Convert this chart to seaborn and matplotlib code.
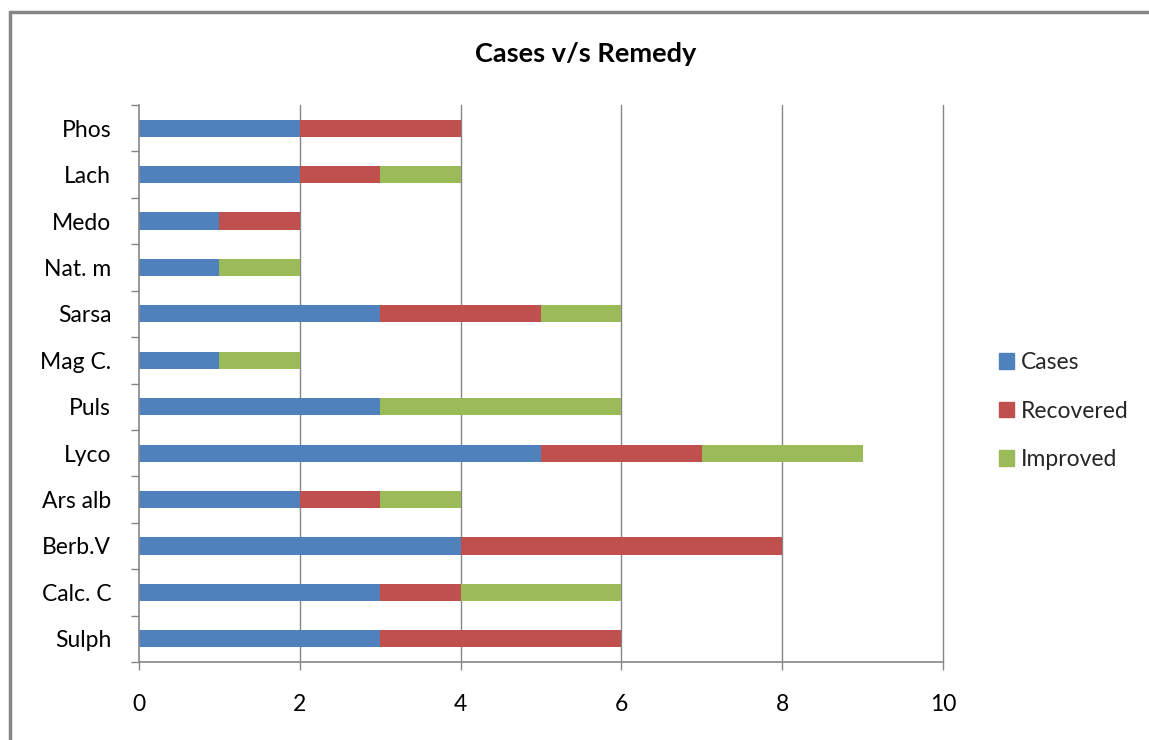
import matplotlib
matplotlib.use("Agg")
import matplotlib.pyplot as plt
from matplotlib.patches import Patch
from matplotlib.lines import Line2D
import seaborn as sns
import pandas as pd
import numpy as np

remedies = ["Phos", "Lach", "Medo", "Nat. m", "Sarsa", "Mag C.", "Puls",
            "Lyco", "Ars alb", "Berb.V", "Calc. C", "Sulph"]
cases = [2, 2, 1, 1, 3, 1, 3, 5, 2, 4, 3, 3]
recovered = [2, 1, 1, 0, 2, 0, 0, 2, 1, 4, 1, 3]
improved = [0, 1, 0, 1, 1, 1, 3, 2, 1, 0, 2, 0]
series_names = ["Cases", "Recovered", "Improved"]
colors = ["#4F81BD", "#C0504D", "#9BBB59"]
x_ticks = [0, 2, 4, 6, 8, 10]

sns.set_theme(style="white")
plt.rcParams["font.family"] = ["Lato", "DejaVu Sans"]

df = pd.DataFrame({"remedy": remedies, "Cases": cases,
                   "Recovered": recovered, "Improved": improved})
df["c1"] = df["Cases"]
df["c2"] = df["Cases"] + df["Recovered"]
df["c3"] = df["c2"] + df["Improved"]

fig = plt.figure(figsize=(11.49, 7.40), dpi=100)
ax = fig.add_axes([139 / 1149, 1 - 662 / 740, (943 - 139) / 1149, (662 - 105) / 740])

grid_col = "#868686"
for xv in x_ticks[1:]:
    ax.axvline(xv, color=grid_col, lw=1.0, zorder=0, clip_on=False)

for col, c in zip(["c3", "c2", "c1"], colors[::-1]):
    sns.barplot(data=df, x=col, y="remedy", order=remedies, orient="h",
                color=c, width=0.37, saturation=1, ax=ax, zorder=2,
                linewidth=0, edgecolor=c)

fs = 16.5
ax.set_xlim(0, 10)
ax.set_ylim(len(remedies) - 0.5, -0.5)
ax.set_xticks(x_ticks)
ax.set_xticklabels([str(v) for v in x_ticks], fontsize=fs, color="black")
ax.set_xlabel("")
ax.set_ylabel("")
ax.tick_params(axis="x", direction="out", length=6, color=grid_col, width=1,
               pad=17, bottom=True)
ax.set_yticks(range(len(remedies)))
ax.set_yticklabels(remedies, fontsize=fs, color="black")
ax.set_yticks(np.arange(-0.5, len(remedies), 1), minor=True)
ax.tick_params(axis="y", which="major", length=0, pad=20)
ax.tick_params(axis="y", which="minor", direction="out", length=6,
               color=grid_col, width=1, left=True)
for s in ["top", "right"]:
    ax.spines[s].set_visible(False)
for s in ["left", "bottom"]:
    ax.spines[s].set_color(grid_col)
    ax.spines[s].set_linewidth(1.2)

fig.text(586 / 1149, 1 - 54 / 740, "Cases v/s Remedy", ha="center", va="center",
         fontsize=19.5, fontweight="bold", color="black")

handles = [Patch(facecolor=c, edgecolor=c) for c in colors]
fig.legend(handles, series_names, loc="center left",
           bbox_to_anchor=(990 / 1149, 1 - 411 / 740), frameon=False,
           fontsize=fs, handlelength=0.65, handleheight=0.65,
           handletextpad=0.3, labelspacing=1.2, borderaxespad=0)

fig.add_artist(Line2D([10 / 1149, 10 / 1149], [0, 1 - 12 / 740],
                      transform=fig.transFigure, color="#868686", lw=2.5))
fig.add_artist(Line2D([10 / 1149, 1], [1 - 12 / 740, 1 - 12 / 740],
                      transform=fig.transFigure, color="#868686", lw=2.5))

fig.savefig("out.png", dpi=100)
